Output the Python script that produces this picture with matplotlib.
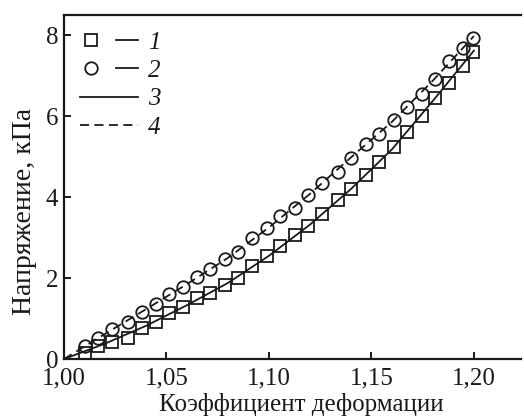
import matplotlib.pyplot as plt
from matplotlib.lines import Line2D
from matplotlib.legend_handler import HandlerTuple

plt.rcParams['font.family'] = ['Liberation Serif', 'DejaVu Serif']

# Points (shared x positions)
strain = [1.0102, 1.0166, 1.0234, 1.0312, 1.0380, 1.0449, 1.0512, 1.0580,
          1.0649, 1.0712, 1.0785, 1.0849, 1.0917, 1.0990, 1.1054, 1.1127,
          1.1190, 1.1259, 1.1337, 1.1400, 1.1473, 1.1537, 1.1610, 1.1673,
          1.1746, 1.1810, 1.1878, 1.1946, 1.1995]
stress_1 = [0.15, 0.32, 0.42, 0.52, 0.77, 0.91, 1.14, 1.28, 1.51, 1.63,
            1.84, 1.99, 2.30, 2.54, 2.79, 3.06, 3.28, 3.58, 3.93, 4.20,
            4.54, 4.86, 5.23, 5.60, 6.00, 6.44, 6.81, 7.23, 7.58]
stress_2 = [0.32, 0.52, 0.74, 0.91, 1.16, 1.36, 1.60, 1.78, 2.02, 2.22,
            2.47, 2.64, 2.99, 3.23, 3.53, 3.73, 4.05, 4.35, 4.62, 4.96,
            5.31, 5.56, 5.90, 6.22, 6.54, 6.91, 7.36, 7.68, 7.93]

# Curves 3 and 4
curve_x = [1.00, 1.02, 1.04, 1.06, 1.08, 1.10, 1.12, 1.14, 1.16, 1.18, 1.20]
curve_3 = [0.0, 0.38, 0.82, 1.33, 1.88, 2.55, 3.32, 4.20, 5.18, 6.38, 7.62]
curve_4 = [0.0, 0.62, 1.23, 1.85, 2.50, 3.25, 4.08, 4.98, 5.86, 6.88, 7.98]

x_ticks = [1.00, 1.05, 1.10, 1.15, 1.20]
x_tick_labels = ['1,00', '1,05', '1,10', '1,15', '1,20']
y_ticks = [0, 2, 4, 6, 8]

ink = '#1a1a1a'

fig = plt.figure(figsize=(5.24, 4.17), dpi=100)
ax = fig.add_axes([0.122, 0.139, 0.872, 0.825])

ax.plot(curve_x, curve_3, '-', color=ink, lw=1.3)
ax.plot(curve_x, curve_4, '--', color=ink, lw=1.3, dashes=(5, 3))
ax.plot(strain, stress_1, 's', ms=8, mfc='none', mec=ink, mew=1.3)
ax.plot(strain, stress_2, 'o', ms=9, mfc='none', mec=ink, mew=1.3)

ax.set_xlim(1.0, 1.2229)
ax.set_ylim(0, 8.5)
ax.set_xticks(x_ticks)
ax.set_xticklabels(x_tick_labels)
ax.set_yticks(y_ticks)
ax.tick_params(direction='in', length=5, width=1.4, labelsize=18,
               colors=ink)
ax.tick_params(axis='x', pad=6)
ax.tick_params(axis='y', pad=4)
ax.spines['right'].set_visible(False)
for s in ['left', 'bottom', 'top']:
    ax.spines[s].set_linewidth(1.6)
    ax.spines[s].set_color(ink)

ax.set_xlabel('Коэффициент деформации', fontsize=18, color=ink)
ax.set_ylabel('Напряжение, кПа', fontsize=20, color=ink)
ax.xaxis.set_label_coords(0.52, -0.099)
ax.yaxis.set_label_coords(-0.06, 0.43)

# Legend
h_sq = Line2D([], [], ls='none', marker='s', ms=8, mfc='none', mec=ink, mew=1.3)
h_ci = Line2D([], [], ls='none', marker='o', ms=9, mfc='none', mec=ink, mew=1.3)
h_ln = Line2D([], [], ls='-', color=ink, lw=1.3)
h_ds = Line2D([], [], ls='--', color=ink, lw=1.3, dashes=(5, 3))
leg = ax.legend([(h_sq, h_ln), (h_ci, h_ln), h_ln, h_ds],
                ['1', '2', '3', '4'],
                handler_map={tuple: HandlerTuple(ndivide=None, pad=0.6)},
                loc='upper left', frameon=False, handlelength=2.3,
                handletextpad=0.4, labelspacing=0.23, borderaxespad=0.25,
                prop={'size': 18, 'style': 'italic'})
for t in leg.get_texts():
    t.set_color(ink)

fig.savefig('out.png', dpi=100)
plt.close(fig)
